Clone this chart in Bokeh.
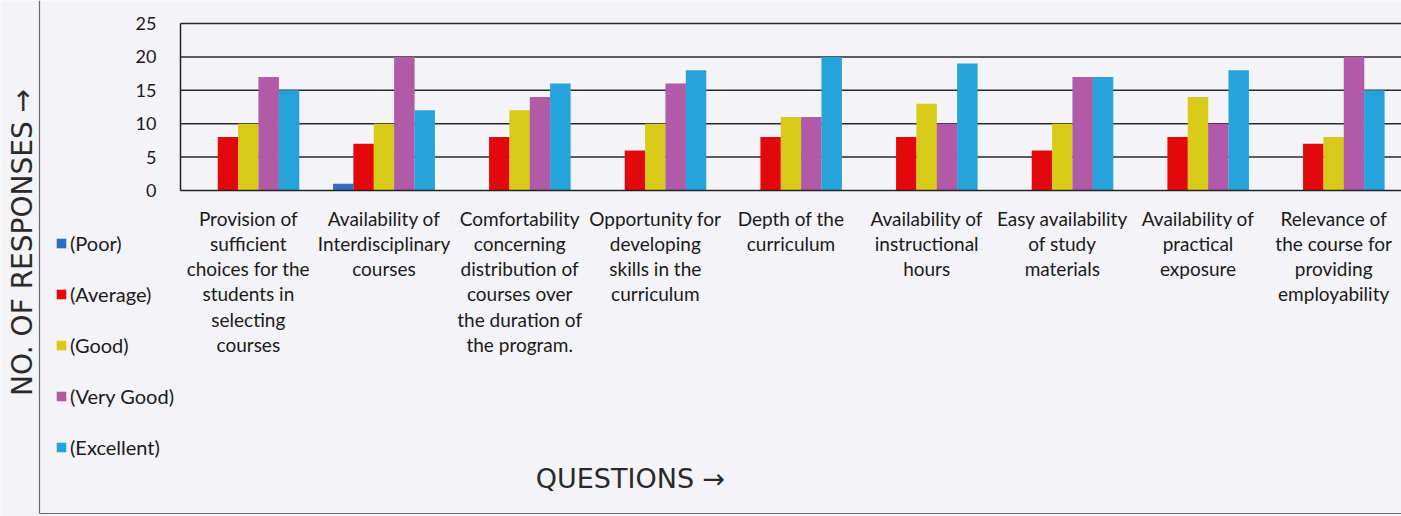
import math
from bokeh.plotting import figure
from bokeh.models import (ColumnDataSource, FixedTicker, Legend, LegendItem, Label,
                          LinearAxis, Range1d)
from bokeh.transform import dodge
from bokeh.embed import file_html
from bokeh.resources import INLINE

questions = [
    "Provision of\nsufficient\nchoices for the\nstudents in\nselecting\ncourses",
    "Availability of\nInterdisciplinary\ncourses",
    "Comfortability\nconcerning\ndistribution of\ncourses over\nthe duration of\nthe program.",
    "Opportunity for\ndeveloping\nskills in the\ncurriculum",
    "Depth of the\ncurriculum",
    "Availability of\ninstructional\nhours",
    "Easy availability\nof study\nmaterials",
    "Availability of\npractical\nexposure",
    "Relevance of\nthe course for\nproviding\nemployability",
]
poor      = [0, 1, 0, 0, 0, 0, 0, 0, 0]
average   = [8, 7, 8, 6, 8, 8, 6, 8, 7]
good      = [10, 10, 12, 10, 11, 13, 10, 14, 8]
very_good = [17, 20, 14, 16, 11, 10, 17, 10, 20]
excellent = [15, 12, 16, 18, 20, 19, 17, 18, 15]
series_names = ["(Poor)", "(Average)", "(Good)", "(Very Good)", "(Excellent)"]
y_ticks = [0, 5, 10, 15, 20, 25]

colors = ["#2c6fc0", "#e2080c", "#d8ca18", "#b15aa8", "#27a3dc"]
paper = "#f4f3f7"

W, H = 1401, 516
# plot-area placement on the canvas (pixels)
fl, fr, ft, fb = 180, 1401, 23, 190
n = len(questions)
ymax = y_ticks[-1]
xpp = n / (fr - fl)
ypp = ymax / (fb - ft)
x_range = Range1d(-fl * xpp, n + (W - fr) * xpp)
y_range = Range1d(-(H - fb) * ypp, ymax + ft * ypp)

xs = [i + 0.5 for i in range(n)]
src = ColumnDataSource(dict(x=xs, poor=poor, average=average, good=good,
                            very_good=very_good, excellent=excellent))

p = figure(width=W, height=H, x_range=x_range, y_range=y_range,
           output_backend="svg", toolbar_location=None,
           x_axis_location=None, y_axis_location=None,
           min_border_left=0, min_border_right=0, min_border_top=0,
           min_border_bottom=0)
p.background_fill_color = paper
p.border_fill_color = paper
p.outline_line_color = None
p.grid.visible = False

# chart-area border (left and bottom edges of the scanned chart box)
bx = x_range.start + 39 * xpp
by = y_range.start + (H - 513) * ypp
p.segment(x0=[bx, bx], y0=[by, by], x1=[bx, x_range.end], y1=[y_range.end, by],
          line_color="#6a6a6a", line_width=1.2)

# horizontal gridlines over the plot area
grid_src = ColumnDataSource(dict(y=y_ticks[1:], x0=[0] * (len(y_ticks) - 1),
                                 x1=[n] * (len(y_ticks) - 1)))
p.segment(x0="x0", x1="x1", y0="y", y1="y", source=grid_src,
          line_color="#2a2a2a", line_width=1.5)

cols = ["poor", "average", "good", "very_good", "excellent"]
offsets = [-0.3, -0.15, 0.0, 0.15, 0.3]
renderers = []
for c, off, col in zip(cols, offsets, colors):
    r = p.vbar(x=dodge("x", off, range=p.x_range), top=c, width=0.151,
               bottom=0, source=src, fill_color=col, line_color=None)
    renderers.append(r)

font = "Lato"
xaxis = LinearAxis(fixed_location=0, bounds=(0, n))
xaxis.ticker = FixedTicker(ticks=xs)
xaxis.major_label_overrides = {x: q for x, q in zip(xs, questions)}
xaxis.major_tick_line_color = None
xaxis.minor_tick_line_color = None
xaxis.axis_line_color = "#222222"
xaxis.axis_line_width = 1.5
xaxis.major_label_text_font = font
xaxis.major_label_text_font_size = "19px"
xaxis.major_label_text_color = "#1a1a1a"
xaxis.major_label_text_line_height = 1.1
xaxis.major_label_standoff = 10
xaxis.major_label_orientation = "horizontal"
p.add_layout(xaxis, "below")

yaxis = LinearAxis(fixed_location=0, bounds=(0, ymax))
yaxis.ticker = FixedTicker(ticks=y_ticks)
yaxis.major_tick_line_color = None
yaxis.minor_tick_line_color = None
yaxis.axis_line_color = "#222222"
yaxis.axis_line_width = 1.5
yaxis.major_label_text_font = font
yaxis.major_label_text_font_size = "18px"
yaxis.major_label_text_color = "#1a1a1a"
yaxis.major_label_standoff = 18
p.add_layout(yaxis, "left")

legend = Legend(items=[LegendItem(label=s, renderers=[r]) for s, r in zip(series_names, renderers)],
                location=(55, 57), orientation="vertical",
                background_fill_alpha=0, border_line_color=None,
                padding=0, margin=0, spacing=27, label_height=24,
                glyph_width=12, glyph_height=12, label_standoff=3,
                label_text_font=font, label_text_font_size="20px",
                label_text_color="#1a1a1a")
p.add_layout(legend)

ylab = Label(x=22, y=H - 242, x_units="screen", y_units="screen",
             text="NO. OF RESPONSES \u2192", angle=math.pi / 2,
             text_align="center", text_baseline="middle",
             text_font="DejaVu Sans", text_font_size="28px",
             text_color="#2a2a2a")
p.add_layout(ylab)

xlab = Label(x=630, y=H - 478, x_units="screen", y_units="screen",
             text="QUESTIONS \u2192", text_align="center", text_baseline="middle",
             text_font="DejaVu Sans", text_font_size="27px",
             text_color="#2a2a2a")
p.add_layout(xlab)

open("out.html", "w").write(file_html(p, INLINE))
